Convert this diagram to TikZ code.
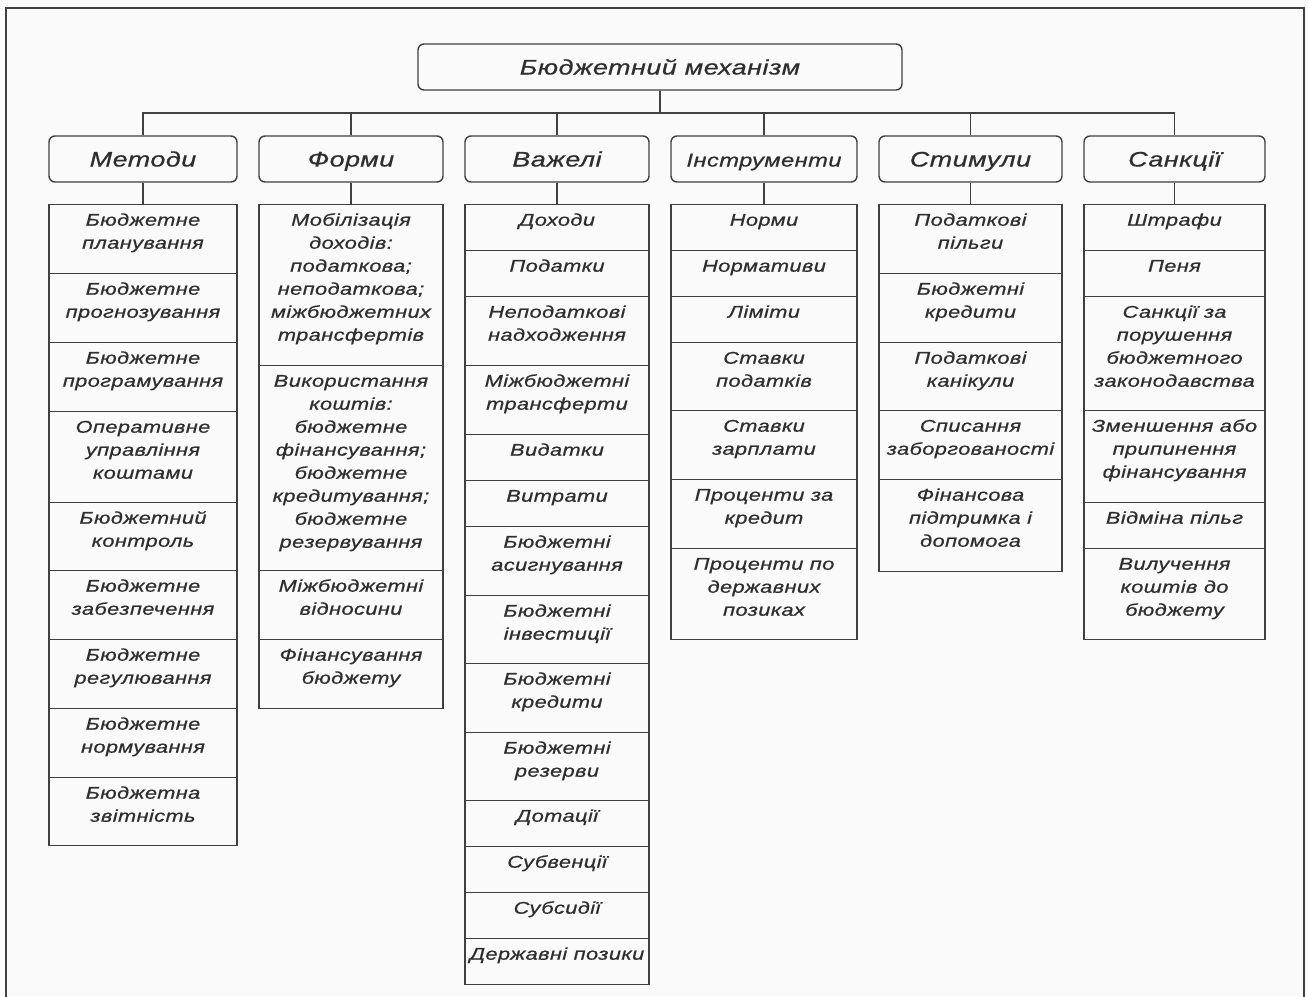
\documentclass[tikz,border=0pt]{standalone}
\usepackage{fontspec}
\setmainfont{Liberation Sans}[FakeStretch=1.28,LetterSpace=2.5,FakeBold=0.7]
\definecolor{linecol}{HTML}{404040}
\definecolor{txtcol}{HTML}{2E2E2E}
\definecolor{bgcol}{HTML}{FAFAFA}
\tikzset{
  head/.style={draw=linecol, line width=1.4pt, rounded corners=6pt, minimum height=46, inner sep=0pt,
    text=txtcol, font=\fontsize{21}{24}\selectfont\itshape, text height=15pt, text depth=0pt},
  item/.style={draw=linecol, line width=1.4pt, anchor=north, inner sep=0pt, text=txtcol,
    font=\fontsize{17}{23}\selectfont\itshape},
  link/.style={draw=linecol, line width=1.1pt}
}
% box of fixed height, text at the top
\newcommand{\cellbox}[2]{\parbox[t][#1pt][t]{180pt}{\centering\rule{0pt}{21pt}#2}}
\begin{document}
\begin{tikzpicture}[x=1pt,y=-1pt]
  \fill[bgcol] (0,0) rectangle (1308,996);
  \useasboundingbox (0,0) rectangle (1308,996);
  \draw[linecol, line width=2.2pt] (6,1000) -- (6,8) -- (1304,8) -- (1304,1000);

  \node[head, minimum width=484] (top) at (660,67) {Бюджетний механізм};
  \coordinate (bus) at (660,113);

  \node[head, minimum width=188] (met) at (143,159) {Методи};
  \node[head, minimum width=184] (form) at (351,159) {Форми};
  \node[head, minimum width=184] (vaz) at (557,159) {Важелі};
  \node[head, minimum width=186, font=\fontsize{18.5}{22}\selectfont\itshape] (instr) at (764,159) {Інструменти};
  \node[head, minimum width=183] (stym) at (970.5,159) {Стимули};
  \node[head, minimum width=181] (sank) at (1174.5,159) {Санкції};

  \foreach \h in {met,form,vaz,instr,stym,sank}
    \draw[link] (top) -- (bus) -| (\h);

  % Методи
  \node[item, minimum width=188] (m1) at (143,204) {\cellbox{69}{Бюджетне\\планування}};
  \node[item, minimum width=188] (m2) at (143,273) {\cellbox{69}{Бюджетне\\прогнозування}};
  \node[item, minimum width=188] (m3) at (143,342) {\cellbox{69}{Бюджетне\\програмування}};
  \node[item, minimum width=188] (m4) at (143,411) {\cellbox{91}{Оперативне\\управління\\коштами}};
  \node[item, minimum width=188] (m5) at (143,502) {\cellbox{68}{Бюджетний\\контроль}};
  \node[item, minimum width=188] (m6) at (143,570) {\cellbox{69}{Бюджетне\\забезпечення}};
  \node[item, minimum width=188] (m7) at (143,639) {\cellbox{69}{Бюджетне\\регулювання}};
  \node[item, minimum width=188] (m8) at (143,708) {\cellbox{69}{Бюджетне\\нормування}};
  \node[item, minimum width=188] (m9) at (143,777) {\cellbox{68}{Бюджетна\\звітність}};

  % Форми
  \node[item, minimum width=184] (f1) at (351,204) {\cellbox{161}{Мобілізація\\доходів:\\податкова;\\неподаткова;\\міжбюджетних\\трансфертів}};
  \node[item, minimum width=184] (f2) at (351,365) {\cellbox{205}{Використання\\коштів:\\бюджетне\\фінансування;\\бюджетне\\кредитування;\\бюджетне\\резервування}};
  \node[item, minimum width=184] (f3) at (351,570) {\cellbox{69}{Міжбюджетні\\відносини}};
  \node[item, minimum width=184] (f4) at (351,639) {\cellbox{69}{Фінансування\\бюджету}};

  % Важелі
  \node[item, minimum width=184] (v1) at (557,204) {\cellbox{46}{Доходи}};
  \node[item, minimum width=184] (v2) at (557,250) {\cellbox{46}{Податки}};
  \node[item, minimum width=184] (v3) at (557,296) {\cellbox{69}{Неподаткові\\надходження}};
  \node[item, minimum width=184] (v4) at (557,365) {\cellbox{69}{Міжбюджетні\\трансферти}};
  \node[item, minimum width=184] (v5) at (557,434) {\cellbox{46}{Видатки}};
  \node[item, minimum width=184] (v6) at (557,480) {\cellbox{46}{Витрати}};
  \node[item, minimum width=184] (v7) at (557,526) {\cellbox{69}{Бюджетні\\асигнування}};
  \node[item, minimum width=184] (v8) at (557,595) {\cellbox{68}{Бюджетні\\інвестиції}};
  \node[item, minimum width=184] (v9) at (557,663) {\cellbox{69}{Бюджетні\\кредити}};
  \node[item, minimum width=184] (v10) at (557,732) {\cellbox{68}{Бюджетні\\резерви}};
  \node[item, minimum width=184] (v11) at (557,800) {\cellbox{46}{Дотації}};
  \node[item, minimum width=184] (v12) at (557,846) {\cellbox{46}{Субвенції}};
  \node[item, minimum width=184] (v13) at (557,892) {\cellbox{46}{Субсидії}};
  \node[item, minimum width=184] (v14) at (557,938) {\cellbox{46}{Державні позики}};

  % Інструменти
  \node[item, minimum width=186] (i1) at (764,204) {\cellbox{46}{Норми}};
  \node[item, minimum width=186] (i2) at (764,250) {\cellbox{46}{Нормативи}};
  \node[item, minimum width=186] (i3) at (764,296) {\cellbox{46}{Ліміти}};
  \node[item, minimum width=186] (i4) at (764,342) {\cellbox{68}{Ставки\\податків}};
  \node[item, minimum width=186] (i5) at (764,410) {\cellbox{69}{Ставки\\зарплати}};
  \node[item, minimum width=186] (i6) at (764,479) {\cellbox{69}{Проценти за\\кредит}};
  \node[item, minimum width=186] (i7) at (764,548) {\cellbox{91}{Проценти по\\державних\\позиках}};

  % Стимули
  \node[item, minimum width=183] (s1) at (970.5,204) {\cellbox{69}{Податкові\\пільги}};
  \node[item, minimum width=183] (s2) at (970.5,273) {\cellbox{69}{Бюджетні\\кредити}};
  \node[item, minimum width=183] (s3) at (970.5,342) {\cellbox{68}{Податкові\\канікули}};
  \node[item, minimum width=183] (s4) at (970.5,410) {\cellbox{69}{Списання\\заборгованості}};
  \node[item, minimum width=183] (s5) at (970.5,479) {\cellbox{92}{Фінансова\\підтримка і\\допомога}};

  % Санкції
  \node[item, minimum width=181] (c1) at (1174.5,204) {\cellbox{46}{Штрафи}};
  \node[item, minimum width=181] (c2) at (1174.5,250) {\cellbox{46}{Пеня}};
  \node[item, minimum width=181] (c3) at (1174.5,296) {\cellbox{114}{Санкції за\\порушення\\бюджетного\\законодавства}};
  \node[item, minimum width=181] (c4) at (1174.5,410) {\cellbox{92}{Зменшення або\\припинення\\фінансування}};
  \node[item, minimum width=181] (c5) at (1174.5,502) {\cellbox{46}{Відміна пільг}};
  \node[item, minimum width=181] (c6) at (1174.5,548) {\cellbox{91}{Вилучення\\коштів до\\бюджету}};

  \draw[link] (met) -- (m1);
  \draw[link] (form) -- (f1);
  \draw[link] (vaz) -- (v1);
  \draw[link] (instr) -- (i1);
  \draw[link] (stym) -- (s1);
  \draw[link] (sank) -- (c1);
\end{tikzpicture}
\end{document}
